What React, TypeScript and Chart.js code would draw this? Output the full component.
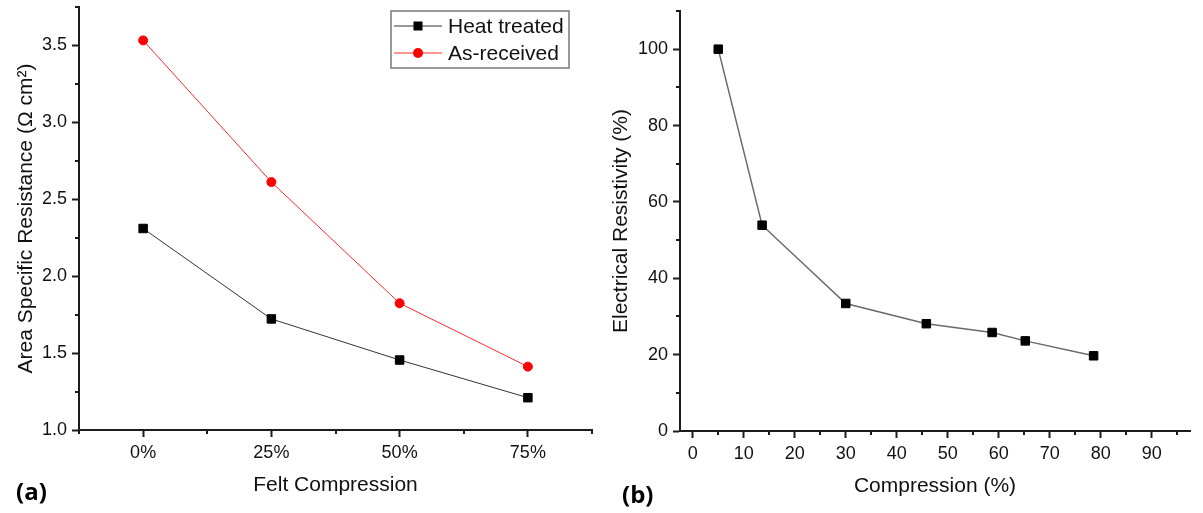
import React, { useEffect, useRef } from "react";
import { Chart, registerables } from "chart.js";

Chart.register(...registerables);

// ---------- data (a) ----------
const feltCompressionLabels = ["0%", "25%", "50%", "75%"];
const feltCompression = [0, 25, 50, 75];
const heatTreated = [2.31, 1.722, 1.455, 1.21];
const asReceived = [3.533, 2.612, 1.824, 1.412];
const asrTicks = [1.0, 1.5, 2.0, 2.5, 3.0, 3.5];

// ---------- data (b) ----------
const compression = [5, 13.6, 30, 45.8, 58.7, 65.2, 78.6];
const resistivity = [100, 53.9, 33.4, 28.1, 25.8, 23.6, 19.7];
const compressionTicks = [0, 10, 20, 30, 40, 50, 60, 70, 80, 90];
const resistivityTicks = [0, 20, 40, 60, 80, 100];

const FONT = "'Liberation Sans', Arial, sans-serif";
const AXIS = "#1c1c1c";
const TXT = "#111111";
const TICK_SIZE = 18;

type MinorAxis = { id: string; minor: number; major: number; len: number };

function makeMinorTicks(axes: MinorAxis[]) {
  return {
    id: "minorTicks",
    afterDraw(chart: any) {
      const ctx = chart.ctx;
      ctx.save();
      ctx.strokeStyle = AXIS;
      ctx.lineWidth = 2;
      axes.forEach((a) => {
        const s = chart.scales[a.id];
        const k0 = Math.ceil(s.min / a.minor - 1e-9);
        const k1 = Math.floor(s.max / a.minor + 1e-9);
        for (let k = k0; k <= k1; k++) {
          const v = k * a.minor;
          const r = v / a.major;
          if (Math.abs(r - Math.round(r)) < 1e-6) continue;
          const p = Math.round(s.getPixelForValue(v));
          ctx.beginPath();
          if (s.isHorizontal()) {
            ctx.moveTo(p, s.top);
            ctx.lineTo(p, s.top + a.len);
          } else {
            ctx.moveTo(s.right, p);
            ctx.lineTo(s.right - a.len, p);
          }
          ctx.stroke();
        }
      });
      ctx.restore();
    },
  };
}

const boxLegend = {
  id: "boxLegend",
  afterDraw(chart: any) {
    const { ctx, chartArea } = chart;
    const w = 178;
    const h = 57;
    const x0 = chartArea.right - 23 - w;
    const y0 = chartArea.top + 4;
    ctx.save();
    ctx.fillStyle = "#ffffff";
    ctx.fillRect(x0, y0, w, h);
    ctx.strokeStyle = "#7a7a7a";
    ctx.lineWidth = 1.5;
    ctx.strokeRect(x0, y0, w, h);
    chart.data.datasets.forEach((ds: any, i: number) => {
      const y = y0 + 15 + i * 27;
      ctx.strokeStyle = ds.borderColor;
      ctx.lineWidth = 1;
      ctx.beginPath();
      ctx.moveTo(x0 + 3, y);
      ctx.lineTo(x0 + 51, y);
      ctx.stroke();
      ctx.fillStyle = ds.pointBackgroundColor;
      const cx = x0 + 27;
      if (ds.pointStyle === "rect") {
        ctx.fillRect(cx - 4.5, y - 4.5, 9, 9);
      } else {
        ctx.beginPath();
        ctx.arc(cx, y, 5, 0, Math.PI * 2);
        ctx.fill();
      }
      ctx.fillStyle = TXT;
      ctx.font = `21px ${FONT}`;
      ctx.textBaseline = "middle";
      ctx.textAlign = "left";
      ctx.fillText(ds.label, x0 + 57, y + 1);
    });
    ctx.restore();
  },
};

function fixSize(dim: "width" | "height", n: number) {
  return (s: any) => {
    s[dim] = n;
    s.paddingTop = 0;
    s.paddingBottom = 0;
    s.paddingLeft = 0;
    s.paddingRight = 0;
  };
}

function axisBase() {
  return {
    type: "linear" as const,
    grid: {
      display: true,
      drawOnChartArea: false,
      drawTicks: true,
      tickLength: 7,
      tickWidth: 2,
      tickColor: AXIS,
    },
    border: { display: true, color: AXIS, width: 2 },
  };
}

function configA(): any {
  return {
    type: "line",
    data: {
      datasets: [
        {
          label: "Heat treated",
          data: feltCompression.map((x, i) => ({ x, y: heatTreated[i] })),
          borderColor: "#333333",
          borderWidth: 1,
          pointStyle: "rect",
          pointRadius: 6,
          pointBackgroundColor: "#000000",
          pointBorderColor: "#000000",
          pointBorderWidth: 1,
          tension: 0,
        },
        {
          label: "As-received",
          data: feltCompression.map((x, i) => ({ x, y: asReceived[i] })),
          borderColor: "#ff2a2a",
          borderWidth: 1,
          pointStyle: "circle",
          pointRadius: 4.5,
          pointBackgroundColor: "#ff0000",
          pointBorderColor: "#ff0000",
          pointBorderWidth: 1,
          tension: 0,
        },
      ],
    },
    options: {
      responsive: false,
      animation: false,
      devicePixelRatio: 1,
      layout: { padding: { left: 0, top: 7, right: 8, bottom: 0 } },
      plugins: { legend: { display: false }, tooltip: { enabled: false } },
      scales: {
        x: {
          ...axisBase(),
          min: -12.5,
          max: 87.5,
          afterBuildTicks: (s: any) => {
            s.ticks = feltCompression.map((v) => ({ value: v }));
          },
          afterFit: fixSize("height", 83),
          ticks: {
            font: { family: FONT, size: TICK_SIZE },
            color: TXT,
            padding: 5,
            maxRotation: 0,
            callback: (v: any) => feltCompressionLabels[feltCompression.indexOf(Number(v))],
          },
          title: {
            display: true,
            text: "Felt Compression",
            font: { family: FONT, size: 21 },
            color: TXT,
            padding: { top: 0, bottom: 15 },
          },
        },
        y: {
          ...axisBase(),
          min: 1.0,
          max: 3.75,
          afterBuildTicks: (s: any) => {
            s.ticks = asrTicks.map((v) => ({ value: v }));
          },
          afterFit: fixSize("width", 79),
          ticks: {
            font: { family: FONT, size: TICK_SIZE },
            color: TXT,
            padding: 5,
            callback: (v: any) => Number(v).toFixed(1),
          },
          title: {
            display: true,
            text: "Area Specific Resistance (Ω cm²)",
            font: { family: FONT, size: 21 },
            color: TXT,
            padding: { top: 14, bottom: 0 },
          },
        },
      },
    },
    plugins: [
      makeMinorTicks([
        { id: "x", minor: 12.5, major: 25, len: 4 },
        { id: "y", minor: 0.25, major: 0.5, len: 4 },
      ]),
      boxLegend,
    ],
  };
}

function configB(): any {
  return {
    type: "line",
    data: {
      datasets: [
        {
          label: "Electrical Resistivity",
          data: compression.map((x, i) => ({ x, y: resistivity[i] })),
          borderColor: "#6a6a6a",
          borderWidth: 1.5,
          pointStyle: "rect",
          pointRadius: 6,
          pointBackgroundColor: "#000000",
          pointBorderColor: "#000000",
          pointBorderWidth: 1,
          tension: 0,
        },
      ],
    },
    options: {
      responsive: false,
      animation: false,
      devicePixelRatio: 1,
      layout: { padding: { left: 0, top: 11, right: 13, bottom: 0 } },
      plugins: { legend: { display: false }, tooltip: { enabled: false } },
      scales: {
        x: {
          ...axisBase(),
          min: -2.5,
          max: 97.5,
          afterBuildTicks: (s: any) => {
            s.ticks = compressionTicks.map((v) => ({ value: v }));
          },
          afterFit: fixSize("height", 82),
          ticks: {
            font: { family: FONT, size: TICK_SIZE },
            color: TXT,
            padding: 5,
            maxRotation: 0,
            autoSkip: false,
            callback: (v: any) => String(v),
          },
          title: {
            display: true,
            text: "Compression (%)",
            font: { family: FONT, size: 21 },
            color: TXT,
            padding: { top: 0, bottom: 14 },
          },
        },
        y: {
          ...axisBase(),
          min: 0,
          max: 110,
          afterBuildTicks: (s: any) => {
            s.ticks = resistivityTicks.map((v) => ({ value: v }));
          },
          afterFit: fixSize("width", 80),
          ticks: {
            font: { family: FONT, size: TICK_SIZE },
            color: TXT,
            padding: 5,
            callback: (v: any) => String(v),
          },
          title: {
            display: true,
            text: "Electrical Resistivity (%)",
            font: { family: FONT, size: 21 },
            color: TXT,
            padding: { top: 9, bottom: 0 },
          },
        },
      },
    },
    plugins: [
      makeMinorTicks([
        { id: "x", minor: 5, major: 10, len: 4 },
        { id: "y", minor: 10, major: 20, len: 4 },
      ]),
    ],
  };
}

function ChartCanvas({ left, width, makeConfig }: { left: number; width: number; makeConfig: () => any }) {
  const ref = useRef<HTMLCanvasElement | null>(null);
  useEffect(() => {
    if (!ref.current) return;
    const chart = new Chart(ref.current, makeConfig());
    return () => chart.destroy();
  }, []);
  return (
    <canvas
      ref={ref}
      width={width}
      height={513}
      style={{ position: "absolute", left, top: 0, width, height: 513 }}
    />
  );
}

const panelLabel: React.CSSProperties = {
  position: "absolute",
  fontFamily: "'Open Sans', 'Liberation Sans', sans-serif",
  fontWeight: 700,
  fontSize: 24,
  lineHeight: "30px",
  color: "#000",
};

export default function App() {
  return (
    <div
      style={{
        position: "absolute",
        left: 0,
        top: 0,
        width: 1203,
        height: 513,
        background: "#ffffff",
        overflow: "hidden",
      }}
    >
      <ChartCanvas left={0} width={600} makeConfig={configA} />
      <ChartCanvas left={600} width={603} makeConfig={configB} />
      <div style={{ ...panelLabel, left: 16, top: 476 }}>(a)</div>
      <div style={{ ...panelLabel, left: 622, top: 479 }}>(b)</div>
    </div>
  );
}
